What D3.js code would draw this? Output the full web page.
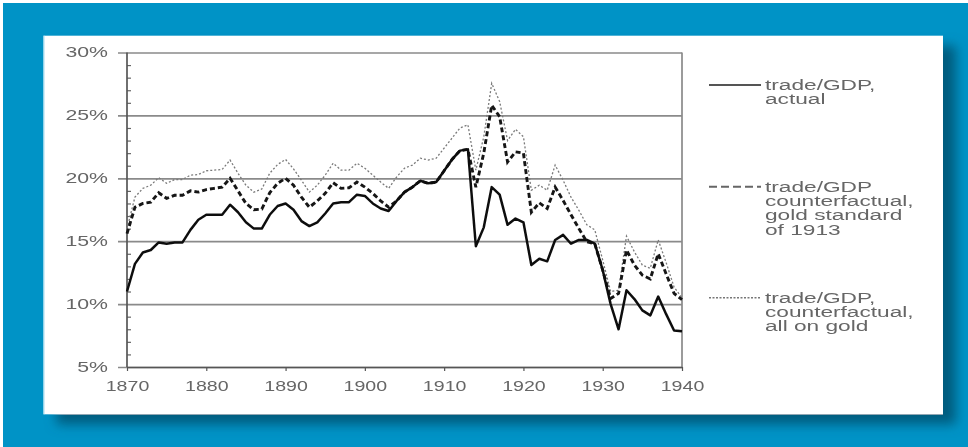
<!DOCTYPE html>
<html>
<head>
<meta charset="utf-8">
<script src="https://cdn.jsdelivr.net/npm/d3@7"></script>
<style>
  html, body { margin: 0; padding: 0; background: #fff; }
  svg { display: block; }
  text { font-family: "Liberation Sans", Arial, sans-serif; fill: #666; }
</style>
</head>
<body>
<div id="chart"></div>
<script>
// years on the x axis
const years = [
  1870, 1871, 1872, 1873, 1874, 1875, 1876, 1877, 1878, 1879,
  1880, 1881, 1882, 1883, 1884, 1885, 1886, 1887, 1888, 1889,
  1890, 1891, 1892, 1893, 1894, 1895, 1896, 1897, 1898, 1899,
  1900, 1901, 1902, 1903, 1904, 1905, 1906, 1907, 1908, 1909,
  1910, 1911, 1912, 1913, 1914, 1915, 1916, 1917, 1918, 1919,
  1920, 1921, 1922, 1923, 1924, 1925, 1926, 1927, 1928, 1929,
  1930, 1931, 1932, 1933, 1934, 1935, 1936, 1937, 1938, 1939,
  1940
];

// trade/GDP, actual (%)
const actual = [
  11.0, 13.2, 14.1, 14.3, 14.9, 14.8, 14.9, 14.9, 15.9, 16.7,
  17.1, 17.1, 17.1, 17.9, 17.3, 16.5, 16.0, 16.0, 17.1, 17.8,
  18.0, 17.5, 16.6, 16.2, 16.5, 17.2, 18.0, 18.1, 18.1, 18.7,
  18.6, 18.0, 17.6, 17.4, 18.2, 18.9, 19.3, 19.8, 19.6, 19.7,
  20.6, 21.5, 22.2, 22.3, 14.6, 16.1, 19.3, 18.7, 16.3, 16.8,
  16.5, 13.1, 13.6, 13.4, 15.1, 15.5, 14.8, 15.1, 15.1, 14.8,
  12.7, 10.0, 8.0, 11.1, 10.4, 9.5, 9.1, 10.6, 9.2, 7.9,
  7.85
];

// trade/GDP counterfactual, gold standard of 1913 (%)
const gold1913 = [
  15.6, 17.7, 18.0, 18.1, 18.85, 18.4, 18.65, 18.65, 19.0, 18.9,
  19.1, 19.2, 19.3, 20.0, 19.0, 18.0, 17.5, 17.55, 18.85, 19.6,
  20.0, 19.45, 18.5, 17.7, 18.2, 18.8, 19.65, 19.2, 19.25, 19.7,
  19.3, 18.8, 18.2, 17.7, 18.2, 18.9, 19.3, 19.8, 19.6, 19.7,
  20.6, 21.5, 22.2, 22.3, 19.3, 22.0, 25.8, 24.9, 21.3, 22.1,
  22.0, 17.3, 18.05, 17.6, 19.3, 18.25, 17.1, 16.0, 14.95, 14.8,
  12.7, 10.45, 10.85, 14.3, 13.1, 12.3, 12.0, 14.0, 12.4, 10.85,
  10.35
];

// trade/GDP, counterfactual, all on gold (%)
const allGold = [
  16.0, 18.5, 19.2, 19.45, 20.05, 19.6, 19.9, 19.9, 20.25, 20.3,
  20.6, 20.65, 20.7, 21.45, 20.4, 19.45, 18.9, 19.15, 20.4, 21.1,
  21.5, 20.75, 19.85, 18.9, 19.45, 20.25, 21.2, 20.65, 20.65, 21.2,
  20.8, 20.25, 19.7, 19.2, 20.1, 20.8, 21.05, 21.6, 21.45, 21.6,
  22.4, 23.2, 24.0, 24.25, 20.65, 23.3, 27.55, 26.1, 23.0, 23.9,
  23.3, 19.05, 19.45, 19.05, 21.05, 19.85, 18.5, 17.45, 16.3, 15.9,
  13.5, 11.0, 11.1, 15.4, 14.15, 13.1, 12.85, 15.1, 13.3, 11.35,
  10.5
];

const yTicks = [5, 10, 15, 20, 25, 30];
const yMinorTicks = [6, 7, 8, 9, 11, 12, 13, 14, 16, 17, 18, 19, 21, 22, 23, 24, 26, 27, 28, 29];
const xTicks = [1870, 1880, 1890, 1900, 1910, 1920, 1930, 1940];

const legendLabels = [
  ['trade/GDP,', 'actual'],
  ['trade/GDP', 'counterfactual,', 'gold standard', 'of 1913'],
  ['trade/GDP,', 'counterfactual,', 'all on gold']
];

const W = 968, H = 447;
const plot = { left: 127, right: 682, top: 52.5, bottom: 367 };
const labelScaleY = 1.52;   // the source picture is stretched sideways
const labelScaleX = 1.4;
const legendScale = 1.62;

const svg = d3.select('#chart').append('svg')
  .attr('width', W)
  .attr('height', H);

// frame: thin white edge, blue ground, white panel with a dark shadow
const defs = svg.append('defs');
const shadow = defs.append('filter')
  .attr('id', 'shadow')
  .attr('x', '-10%').attr('y', '-10%')
  .attr('width', '130%').attr('height', '130%');
shadow.append('feDropShadow')
  .attr('dx', 13).attr('dy', 10)
  .attr('stdDeviation', 6)
  .attr('flood-color', '#04587a')
  .attr('flood-opacity', 0.95);

// the reference is a soft, rescaled scan
const soft = defs.append('filter').attr('id', 'soft');
soft.append('feGaussianBlur').attr('stdDeviation', 0.45);

svg.append('rect').attr('width', W).attr('height', H).attr('fill', '#ffffff');
svg.append('rect')
  .attr('x', 3).attr('y', 3)
  .attr('width', W - 3).attr('height', H - 3)
  .attr('fill', '#0093c6');
svg.append('rect')
  .attr('x', 43.5).attr('y', 35.7)
  .attr('width', 899.5).attr('height', 378.6)
  .attr('fill', '#ffffff')
  .attr('filter', 'url(#shadow)');
svg.append('line')
  .attr('x1', 44).attr('x2', 44)
  .attr('y1', 35.7).attr('y2', 414.3)
  .attr('stroke', '#a8dcef').attr('stroke-width', 1);

const chart = svg.append('g').attr('filter', 'url(#soft)');

// scales
const x = d3.scaleLinear().domain([1870, 1940]).range([plot.left, plot.right]);
const y = d3.scaleLinear().domain([5, 30]).range([plot.bottom, plot.top]);

// horizontal gridlines + y labels
const yAxis = chart.append('g')
  .attr('transform', `translate(118,0)`)
  .call(d3.axisLeft(y)
    .tickValues(yTicks)
    .tickSize(-(plot.right - 118))
    .tickPadding(0)
    .tickFormat(d => d + '%'));
yAxis.select('.domain').remove();
yAxis.selectAll('.tick line')
  .attr('stroke', '#8a8a8a')
  .attr('stroke-width', 1.7);
yAxis.selectAll('.tick text')
  .attr('x', 0)
  .attr('transform', `translate(-10,0) scale(${labelScaleY},1)`)
  .attr('font-size', 14)
  .attr('fill', '#6a6a6a');

// minor ticks inside the y axis
const yMinor = chart.append('g')
  .attr('transform', `translate(${plot.left},0)`)
  .call(d3.axisRight(y).tickValues(yMinorTicks).tickSize(4).tickFormat(''));
yMinor.select('.domain').remove();
yMinor.selectAll('.tick line').attr('stroke', '#666').attr('stroke-width', 1.2);

// right border of the plot
chart.append('line')
  .attr('x1', plot.right).attr('x2', plot.right)
  .attr('y1', plot.top).attr('y2', plot.bottom)
  .attr('stroke', '#8a8a8a').attr('stroke-width', 1.7);

// y axis line
chart.append('line')
  .attr('x1', plot.left).attr('x2', plot.left)
  .attr('y1', plot.top).attr('y2', plot.bottom)
  .attr('stroke', '#555').attr('stroke-width', 1.7);

// x axis
const xAxis = chart.append('g')
  .attr('transform', `translate(0,${plot.bottom})`)
  .call(d3.axisBottom(x).tickValues(xTicks).tickSize(4).tickSizeOuter(0).tickFormat(d3.format('d')));
xAxis.select('.domain').attr('stroke', '#555').attr('stroke-width', 1.7);
xAxis.selectAll('.tick line').attr('stroke', '#555').attr('stroke-width', 1.2);
xAxis.selectAll('.tick text')
  .attr('y', 0)
  .attr('transform', `translate(0,14) scale(${labelScaleX},1)`)
  .attr('font-size', 14)
  .attr('fill', '#6a6a6a');

// series
const line = d3.line()
  .x((d, i) => x(years[i]))
  .y(d => y(d));

chart.append('path')
  .datum(allGold)
  .attr('d', line)
  .attr('fill', 'none')
  .attr('stroke', '#7a7a7a')
  .attr('stroke-width', 1.3)
  .attr('stroke-dasharray', '2,2');

chart.append('path')
  .datum(gold1913)
  .attr('d', line)
  .attr('fill', 'none')
  .attr('stroke', '#151515')
  .attr('stroke-width', 2.9)
  .attr('stroke-dasharray', '5,3');

chart.append('path')
  .datum(actual)
  .attr('d', line)
  .attr('fill', 'none')
  .attr('stroke', '#111')
  .attr('stroke-width', 2.5)
  .attr('stroke-linejoin', 'round');

// legend
const legendTop = [85, 186.7, 297.7];
const legendDash = [null, '8,4', '2,1.5'];
const legendWidth = [2.2, 2, 1.5];
const legendColor = ['#555', '#666', '#777'];

legendLabels.forEach((lines, k) => {
  const g = chart.append('g').attr('transform', `translate(0,${legendTop[k]})`);
  g.append('line')
    .attr('x1', 709).attr('x2', 761)
    .attr('y1', 0).attr('y2', 0)
    .attr('stroke', legendColor[k])
    .attr('stroke-width', legendWidth[k])
    .attr('stroke-dasharray', legendDash[k]);
  lines.forEach((t, j) => {
    g.append('text')
      .attr('transform', `translate(765,${j * 14.4}) scale(${legendScale},1)`)
      .attr('dy', '0.35em')
      .attr('font-size', 14)
      .attr('fill', '#666')
      .text(t);
  });
});
</script>
</body>
</html>
